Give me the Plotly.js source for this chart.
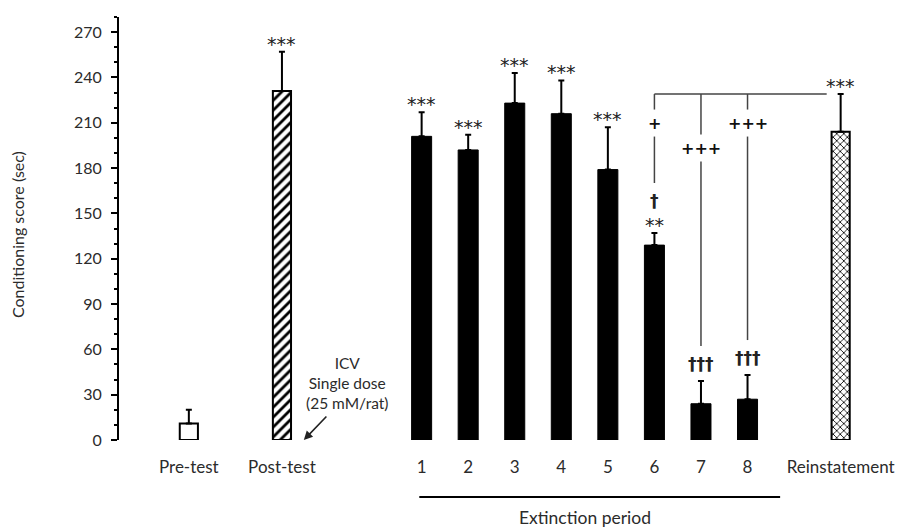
<!DOCTYPE html>
<html><head><meta charset="utf-8">
<script src="https://cdn.plot.ly/plotly-3.0.1.min.js"></script>
<style>html,body{margin:0;padding:0;background:#fff}#chart{width:903px;height:528px}</style>
</head><body><div id="chart"></div>
<script>
// ---- data ----
const categories = ['Pre-test','Post-test','1','2','3','4','5','6','7','8','Reinstatement'];
const means = [11, 231, 201, 192, 223, 216, 179, 129, 24, 27, 204];
const sems  = [9, 26, 16, 10, 20, 22, 28, 8, 15, 16, 25];
const starMarks   = ['', '***','***','***','***','***','***','**','','','***'];
const daggerMarks = ['','','','','','','','†','†††','†††',''];
const plusMarks   = ['','','','','','','','+','+++','+++',''];
const yTicks = [0,30,60,90,120,150,180,210,240,270];
const groupLabel = 'Extinction period';
const yTitle = 'Conditioning score (sec)';
const doseNote = ['ICV','Single dose','(25 mM/rat)'];

// ---- layout helpers ----
const n = categories.length;
const xpos = categories.map((c,i)=> i===0 ? 0 : i===1 ? 2 : i<n-1 ? 3+i : 4+i);
const extIdx = [2,3,4,5,6,7,8,9];
const FONT = 'Lato, Carlito, "Open Sans", sans-serif';
const TXT = '#2b2b2b';
const MARG = {l:119, r:13, t:17, b:88};
const W = 903, H = 528;
const plotH = H - MARG.t - MARG.b;
const Y_MAX = 280;
const upx = Y_MAX / plotH; // data units per pixel

function pick(arr, idx){ return idx.map(i=>arr[i]); }
function barTrace(idx, marker, width){
  return {
    type:'bar', x: pick(xpos, idx), y: pick(means, idx), width: width,
    marker: marker,
    error_y: {type:'data', symmetric:false, array: pick(sems, idx),
              arrayminus: idx.map(()=>0), color:'#000', thickness:2, width:3},
    hoverinfo:'skip', showlegend:false
  };
}
const data = [
  barTrace([0], {color:'#fff', line:{color:'#000', width:2}}, 0.39),
  barTrace([1], {color:'#fff', line:{color:'#000', width:2},
     pattern:{shape:'/', fgcolor:'#000', bgcolor:'#fff', size:7, solidity:0.4}}, 0.39),
  barTrace(extIdx, {color:'#000', line:{color:'#000', width:1}}, 0.43),
  barTrace([10], {color:'#fff', line:{color:'#000', width:2},
     pattern:{shape:'x', fgcolor:'#000', bgcolor:'#fff', size:5, solidity:0.3}}, 0.39)
];

const annotations = [];
const shapes = [];
const starFont = {family:'"DejaVu Sans", sans-serif', size:19, color:'#222'};
const daggerFont = {family:'"DejaVu Sans", sans-serif', size:17, color:'#222'};
const plusFont = {family:'"DejaVu Sans", sans-serif', size:16, color:'#111'};
// significance marks above each bar
for (let i=0;i<n;i++){
  const cap = means[i]+sems[i];
  let top = 0;
  if (starMarks[i]){
    top = 12;
    annotations.push({x:xpos[i], y:cap, xref:'x', yref:'y', text:starMarks[i],
      showarrow:false, yanchor:'middle', yshift:top-4, font:starFont});
  }
  if (daggerMarks[i]){
    top = top ? top + 23 : 20;
    annotations.push({x:xpos[i], y:cap, xref:'x', yref:'y', text:'<b>'+daggerMarks[i]+'</b>',
      showarrow:false, yanchor:'middle', yshift:top-3, font:daggerFont});
  }
  if (plusMarks[i]){
    // comparison line to reinstatement
    const bracket = means[n-1] + sems[n-1];
    const plusPx = i === 8 ? 54 : 29;
    const gap = 13.5;
    const lineBottom = cap + (top + 15) * upx;
    shapes.push({type:'line', xref:'x', yref:'y', x0:xpos[i], x1:xpos[i],
      y0:bracket, y1:bracket - (plusPx-gap)*upx, line:{color:'#444', width:1.5}});
    shapes.push({type:'line', xref:'x', yref:'y', x0:xpos[i], x1:xpos[i],
      y0:bracket - (plusPx+gap)*upx, y1:lineBottom, line:{color:'#444', width:1.5}});
    annotations.push({x:xpos[i], y:bracket, xref:'x', yref:'y', text:'<b>'+plusMarks[i]+'</b>',
      showarrow:false, yanchor:'middle', yshift:-plusPx, font:plusFont});
  }
}
// horizontal bracket
{
  const bracket = means[n-1] + sems[n-1];
  shapes.push({type:'line', xref:'x', yref:'y', x0:xpos[7], x1:xpos[n-1]-0.3,
    y0:bracket, y1:bracket, line:{color:'#444', width:1.5}});
}
// extinction period underline + label
shapes.push({type:'line', xref:'x', yref:'paper', x0:xpos[2]-0.05, x1:xpos[9]+0.7,
  y0:-57/plotH, y1:-57/plotH, line:{color:'#000', width:2}});
annotations.push({x:(xpos[2]+xpos[9])/2, xref:'x', y:-77/plotH, yref:'paper', text:groupLabel,
  showarrow:false, yanchor:'middle', font:{family:FONT, size:17.5, color:TXT}});
// y title
annotations.push({x:(17-MARG.l)/(W-MARG.l-MARG.r), xref:'paper', xanchor:'center',
  y:(440-235)/plotH, yref:'paper', yanchor:'middle',
  text:yTitle, textangle:-90, showarrow:false, font:{family:FONT, size:16, color:TXT}});
// ICV note + arrow
annotations.push({x:xpos[1]+1.4, xref:'x', y:38, yref:'y', text:doseNote.join('<br>'),
  showarrow:false, align:'center', font:{family:FONT, size:15.5, color:TXT}});
annotations.push({x:xpos[1]+0.47, xref:'x', y:0, yref:'y', text:'', showarrow:true,
  ax:24, ay:-25, arrowhead:2, arrowsize:1.1, arrowwidth:1.6, arrowcolor:'#222', standoff:0});

const layout = {
  width:W, height:H, margin:MARG, paper_bgcolor:'#fff', plot_bgcolor:'#fff',
  font:{family:FONT, color:TXT},
  bargap:0,
  xaxis:{range:[-1.5, 15.06], tickvals:xpos, ticktext:categories, showline:false, ticks:'',
         showgrid:false, zeroline:false, tickfont:{family:FONT, size:17, color:TXT},
         ticklabelstandoff:15, fixedrange:true},
  yaxis:{range:[0, Y_MAX], tickvals:yTicks, showline:true, linecolor:'#000', linewidth:2,
         ticks:'outside', ticklen:6, tickwidth:2, tickcolor:'#000', showgrid:false, zeroline:false,
         tickfont:{family:FONT, size:16, color:TXT}, ticklabelstandoff:6,
         minor:{dtick:10, tick0:0, ticks:'outside', ticklen:3, tickwidth:2, tickcolor:'#000', showgrid:false},
         fixedrange:true},
  shapes:shapes, annotations:annotations
};
Plotly.newPlot('chart', data, layout, {displayModeBar:false, staticPlot:true});
</script>
</body></html>
